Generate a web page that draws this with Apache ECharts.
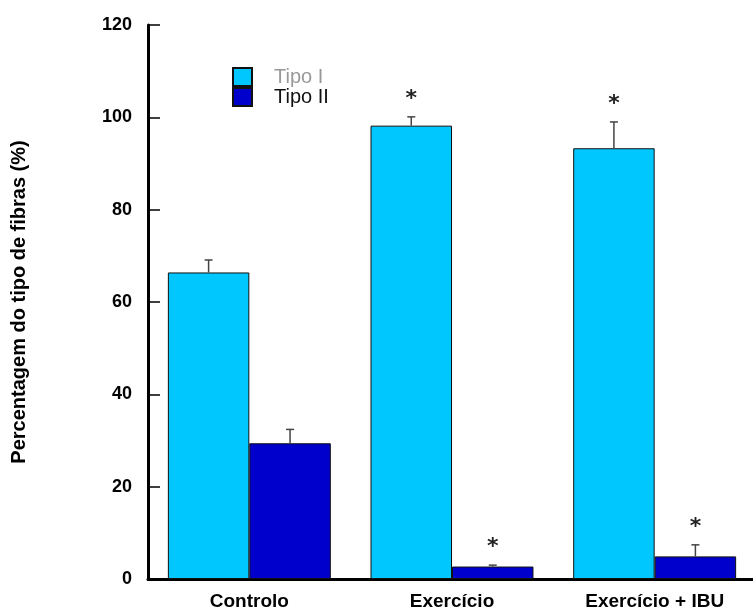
<!DOCTYPE html>
<html>
<head>
<meta charset="utf-8">
<script src="https://cdn.jsdelivr.net/npm/echarts@6/dist/echarts.min.js"></script>
<style>
  html, body { margin: 0; padding: 0; background: #fff; }
  #chart { width: 753px; height: 610px; }
</style>
</head>
<body>
<div id="chart"></div>
<script>
// Fibre-type percentages per group (mean and upper end of the error bar)
const categories = ['Controlo', 'Exercício', 'Exercício + IBU'];
const seriesNames = ['Tipo I', 'Tipo II'];
const tipoI = [66.4, 98.2, 93.3];
const tipoIHigh = [69.1, 100.1, 99.0];
const tipoII = [29.4, 2.7, 4.9];
const tipoIIHigh = [32.4, 3.0, 7.4];
// significance marks (*) per group
const tipoISig = [false, true, true];
const tipoIISig = [false, true, true];
const yTicks = [0, 20, 40, 60, 80, 100, 120];

const colorI = '#00c8ff';
const colorII = '#0000cc';
const FONT = '"Liberation Sans", Arial, sans-serif';
const GAP = 0.196; // share of each category left empty

// error bar + asterisk drawn from the series' own values
function errorRenderer(high, sig, side) {
  return function (params, api) {
    const idx = api.value(0);
    const band = api.size([1, 0])[0];
    const offset = side * band * (1 - GAP) / 4;
    const base = api.coord([idx, api.value(1)]);
    const top = api.coord([idx, high[params.dataIndex]]);
    const x = base[0] + offset;
    const children = [
      { type: 'line', shape: { x1: x, y1: base[1], x2: x, y2: top[1] },
        style: { stroke: '#444', lineWidth: 1.5 } },
      { type: 'line', shape: { x1: x - 4, y1: top[1], x2: x + 4, y2: top[1] },
        style: { stroke: '#444', lineWidth: 1.5 } }
    ];
    if (sig[params.dataIndex]) {
      children.push({ type: 'text', x: x, y: top[1] - 18,
        style: { text: '*', fill: '#222', font: 'bold 22px "DejaVu Sans", sans-serif',
                 align: 'center', verticalAlign: 'middle' } });
    }
    return { type: 'group', children: children };
  };
}

const chart = echarts.init(document.getElementById('chart'), null, { renderer: 'canvas' });
chart.setOption({
  backgroundColor: '#fff',
  animation: false,
  grid: { left: 148, right: -3, top: 25, bottom: 31, outerBoundsMode: 'none', containLabel: false },
  legend: {
    orient: 'vertical',
    left: 232, top: 67,
    padding: 0,
    itemGap: 0,
    itemWidth: 19, itemHeight: 18,
    icon: 'rect',
    textStyle: { fontFamily: FONT, fontSize: 20, color: '#111', padding: [0, 0, 0, 17] },
    data: [
      { name: seriesNames[0], textStyle: { color: '#999' } },
      { name: seriesNames[1] }
    ]
  },
  xAxis: {
    type: 'category',
    data: categories,
    axisLine: { lineStyle: { color: '#000', width: 3 } },
    axisTick: { inside: true, length: 11, lineStyle: { color: '#000', width: 1.5 } },
    axisLabel: { fontFamily: FONT, fontSize: 19, fontWeight: 'bold', color: '#000', margin: 13 }
  },
  yAxis: {
    type: 'value',
    min: 0, max: 120, interval: 20,
    name: 'Percentagem do tipo de fibras (%)',
    nameLocation: 'middle',
    nameGap: 119,
    nameTextStyle: { fontFamily: FONT, fontSize: 20, fontWeight: 'bold', color: '#000' },
    splitLine: { show: false },
    axisLine: { show: true, lineStyle: { color: '#000', width: 3 } },
    axisTick: { show: true, inside: true, length: 12, lineStyle: { color: '#000', width: 1.5 } },
    axisLabel: { fontFamily: FONT, fontSize: 18, fontWeight: 'bold', color: '#000', margin: 16,
                 formatter: v => yTicks.includes(v) ? String(v) : '' }
  },
  series: [
    { name: seriesNames[0], type: 'bar', data: tipoI, barGap: 0, barCategoryGap: (GAP * 100) + '%',
      itemStyle: { color: colorI, borderColor: '#111', borderWidth: 1 } },
    { name: seriesNames[1], type: 'bar', data: tipoII, barGap: 0, barCategoryGap: (GAP * 100) + '%',
      itemStyle: { color: colorII, borderColor: '#111', borderWidth: 1 } },
    { type: 'custom', data: tipoI.map((v, i) => [i, v]), z: 5,
      renderItem: errorRenderer(tipoIHigh, tipoISig, -1) },
    { type: 'custom', data: tipoII.map((v, i) => [i, v]), z: 5,
      renderItem: errorRenderer(tipoIIHigh, tipoIISig, 1) }
  ]
});
</script>
</body>
</html>
